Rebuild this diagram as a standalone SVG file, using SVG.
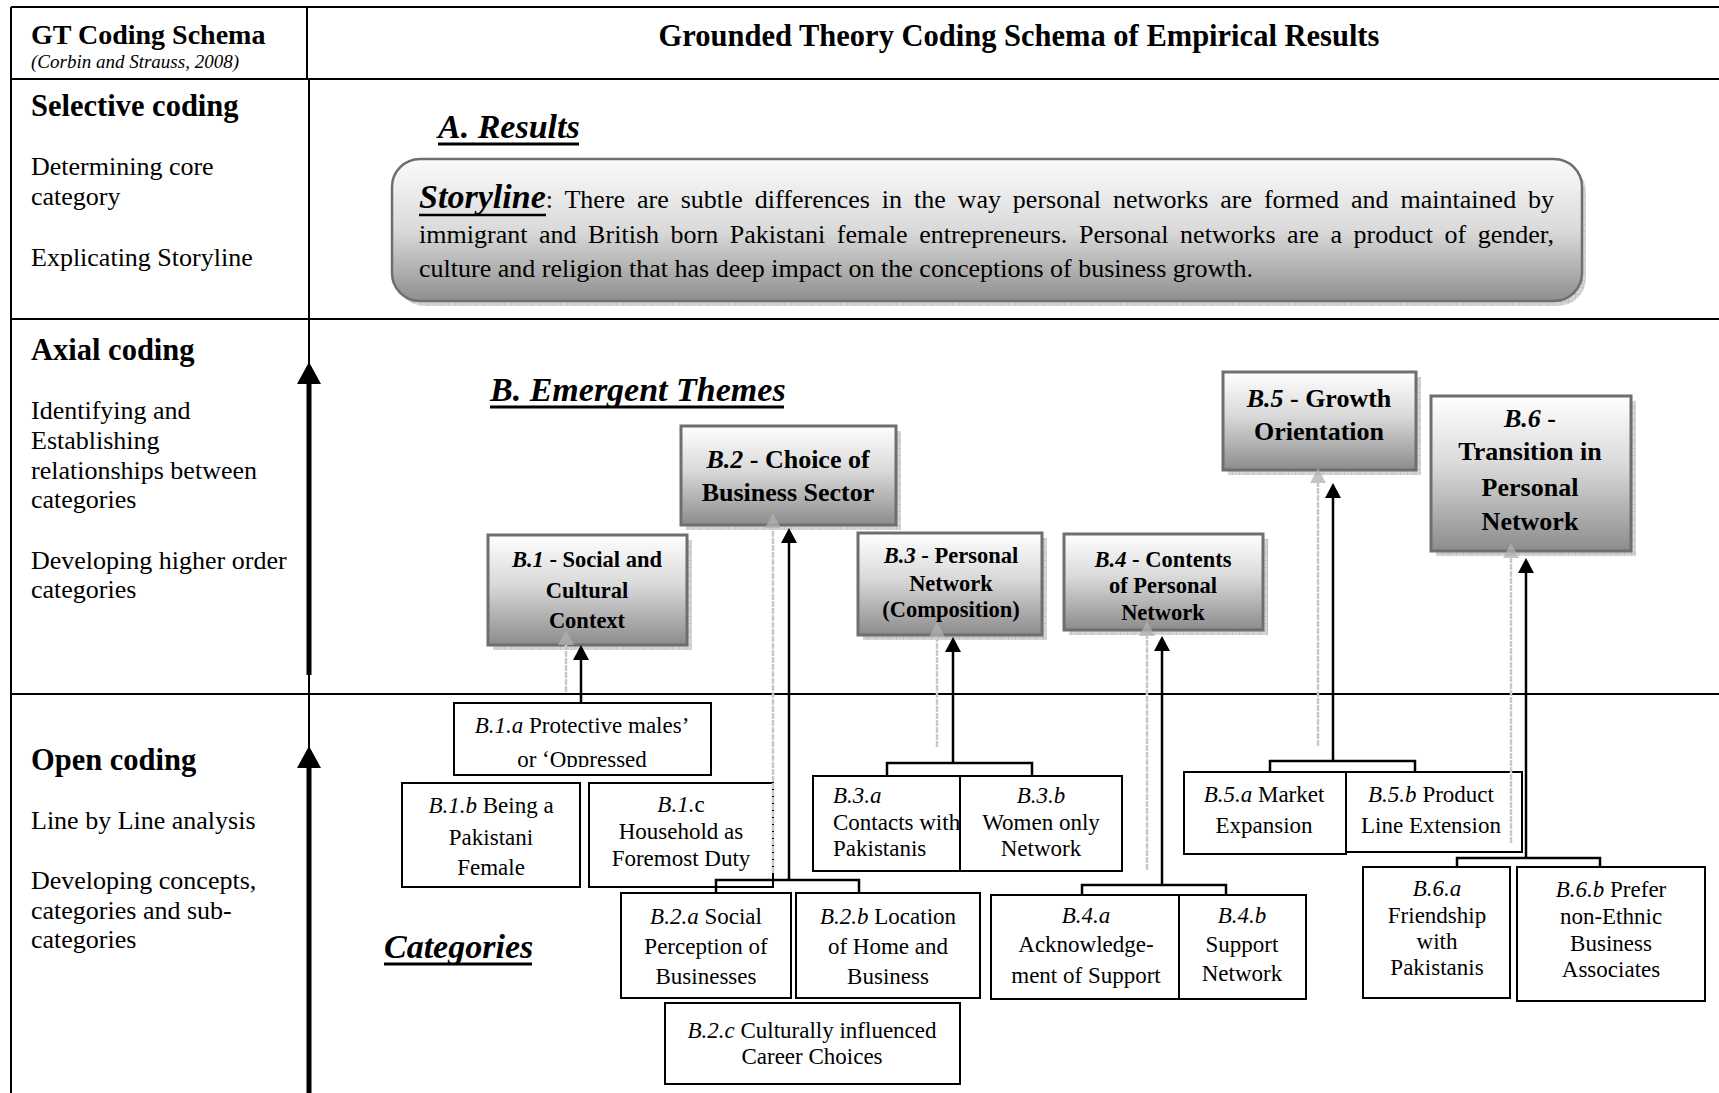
<svg xmlns="http://www.w3.org/2000/svg" width="1719" height="1093" viewBox="0 0 1719 1093">
<defs>
<style>
text{font-family:'Liberation Serif','Times New Roman',serif;fill:#000}
.tl{stroke:#000;stroke-width:2;fill:none}
.h1{font-size:30.5px;font-weight:bold}
.bd{font-size:26px}
.sec{font-size:34px;font-weight:bold;font-style:italic}
.th{fill:url(#tg);stroke:#6e6e6e;stroke-width:3}
.sh{fill:url(#hatch)}
.t26{font-size:26px;font-weight:bold;text-anchor:middle}
.t22{font-size:22.5px;font-weight:bold;text-anchor:middle}
.cat{fill:#fff;stroke:#000;stroke-width:2}
.ct{font-size:23px;text-anchor:middle}
.ctl{font-size:23px}
.i{font-style:italic}
.con{stroke:#000;stroke-width:2.5;fill:none}
.gc{stroke:#c9c9c9;stroke-width:2.5;fill:none;stroke-dasharray:6 1}
</style>
<linearGradient id="tg" x1="0" y1="0" x2="0" y2="1">
<stop offset="0" stop-color="#ffffff"/>
<stop offset="0.45" stop-color="#d9d9d9"/>
<stop offset="1" stop-color="#8c8c8c"/>
</linearGradient>
<linearGradient id="sg" x1="0" y1="0" x2="0" y2="1">
<stop offset="0" stop-color="#fbfbfb"/>
<stop offset="0.5" stop-color="#dadada"/>
<stop offset="1" stop-color="#8f8f8f"/>
</linearGradient>
<pattern id="hatch" width="7" height="7" patternUnits="userSpaceOnUse">
<rect width="7" height="7" fill="#d4d4d4"/>
<path d="M0,0V7M0,0H7" stroke="#b2b2b2" stroke-width="1"/>
</pattern>
<marker id="ah" viewBox="0 0 15 16" refX="0" refY="8" markerWidth="15" markerHeight="16" markerUnits="userSpaceOnUse" orient="auto">
<path d="M0,0L15,8L0,16Z" fill="#000"/>
</marker>
<marker id="gah" viewBox="0 0 15 16" refX="0" refY="8" markerWidth="15" markerHeight="16" markerUnits="userSpaceOnUse" orient="auto">
<path d="M0,0L15,8L0,16Z" fill="#b0b0b0" fill-opacity="0.75"/>
</marker>
<marker id="big" viewBox="0 0 22 24" refX="0" refY="12" markerWidth="22" markerHeight="24" markerUnits="userSpaceOnUse" orient="auto">
<path d="M0,0L22,12L0,24Z" fill="#000"/>
</marker>
<clipPath id="c1a"><rect x="455" y="704" width="255" height="63"/></clipPath>
</defs>
<rect width="1719" height="1093" fill="#fff"/>

<g id="table">
<path class="tl" d="M11,7H1719M11,79H1719M11,319H1719M11,694H1719M11,7V1093M307,7V79M309,79V1093"/>
<text x="31" y="44" style="font-size:28px;font-weight:bold">GT Coding Schema</text>
<text x="31" y="68" style="font-size:19px;font-style:italic">(Corbin and Strauss, 2008)</text>
<text x="1019" y="46" class="h1" text-anchor="middle">Grounded Theory Coding Schema of Empirical Results</text>
<text x="31" y="116" class="h1">Selective coding</text>
<text x="31" y="175" class="bd">Determining core</text>
<text x="31" y="205" class="bd">category</text>
<text x="31" y="266" class="bd">Explicating Storyline</text>
<text x="31" y="360" class="h1">Axial coding</text>
<text x="31" y="419" class="bd">Identifying and</text>
<text x="31" y="449" class="bd">Establishing</text>
<text x="31" y="479" class="bd">relationships between</text>
<text x="31" y="508" class="bd">categories</text>
<text x="31" y="569" class="bd">Developing higher order</text>
<text x="31" y="598" class="bd">categories</text>
<text x="31" y="770" class="h1">Open coding</text>
<text x="31" y="829" class="bd">Line by Line analysis</text>
<text x="31" y="889" class="bd">Developing concepts,</text>
<text x="31" y="919" class="bd">categories and sub-</text>
<text x="31" y="948" class="bd">categories</text>
</g>

<g id="stage-arrows">
<line x1="309" y1="675" x2="309" y2="384" stroke="#000" stroke-width="5" marker-end="url(#big)"/>
<line x1="309" y1="1093" x2="309" y2="768" stroke="#000" stroke-width="5" marker-end="url(#big)"/>
</g>

<g id="section-a">
<text x="438" y="138" class="sec">A. Results</text>
<line x1="438" y1="144" x2="579" y2="144" stroke="#000" stroke-width="3"/>
</g>

<g id="storyline">
<rect x="396" y="164" width="1190" height="142" rx="28" fill="url(#hatch)"/>
<rect x="392" y="159" width="1190" height="142" rx="28" fill="url(#sg)" stroke="#6e6e6e" stroke-width="2.5"/>
<text x="419" y="208" textLength="1135" lengthAdjust="spacing" style="font-size:26px;word-spacing:5.3px"><tspan style="font-size:34px;font-weight:bold;font-style:italic">Storyline</tspan>: There are subtle differences in the way personal networks are formed and maintained by</text>
<line x1="419" y1="215" x2="546" y2="215" stroke="#000" stroke-width="2.5"/>
<text x="419" y="243" textLength="1135" lengthAdjust="spacing" style="font-size:26px;word-spacing:5px">immigrant and British born Pakistani female entrepreneurs. Personal networks are a product of gender,</text>
<text x="419" y="277" style="font-size:26px">culture and religion that has deep impact on the conceptions of business growth.</text>
</g>

<g id="section-b">
<text x="490" y="401" class="sec">B. Emergent Themes</text>
<line x1="490" y1="407" x2="784" y2="407" stroke="#000" stroke-width="3"/>
</g>

<g id="section-categories">
<text x="384" y="958" class="sec">Categories</text>
<line x1="384" y1="964" x2="532" y2="964" stroke="#000" stroke-width="3"/>
</g>

<g id="B1">
<rect class="sh" x="493" y="540" width="199" height="110"/>
<rect class="th" x="488" y="535" width="199" height="110"/>
<text x="587" y="567" class="t22"><tspan class="i">B.1</tspan> - Social and</text>
<text x="587" y="598" class="t22">Cultural</text>
<text x="587" y="628" class="t22">Context</text>
</g>
<g id="B2">
<rect class="sh" x="686" y="431" width="215" height="99"/>
<rect class="th" x="681" y="426" width="215" height="99"/>
<text x="788" y="468" class="t26"><tspan class="i">B.2</tspan> - Choice of</text>
<text x="788" y="501" class="t26">Business Sector</text>
</g>
<g id="B3">
<rect class="sh" x="863" y="538" width="184" height="102"/>
<rect class="th" x="858" y="533" width="184" height="102"/>
<text x="951" y="563" class="t22"><tspan class="i">B.3</tspan> - Personal</text>
<text x="951" y="591" class="t22">Network</text>
<text x="951" y="617" class="t22">(Composition)</text>
</g>
<g id="B4">
<rect class="sh" x="1069" y="539" width="199" height="96"/>
<rect class="th" x="1064" y="534" width="199" height="96"/>
<text x="1163" y="567" class="t22"><tspan class="i">B.4</tspan> - Contents</text>
<text x="1163" y="593" class="t22">of Personal</text>
<text x="1163" y="620" class="t22">Network</text>
</g>
<g id="B5">
<rect class="sh" x="1228" y="377" width="193" height="98"/>
<rect class="th" x="1223" y="372" width="193" height="98"/>
<text x="1319" y="407" class="t26"><tspan class="i">B.5</tspan> - Growth</text>
<text x="1319" y="440" class="t26">Orientation</text>
</g>
<g id="B6">
<rect class="sh" x="1436" y="401" width="200" height="155"/>
<rect class="th" x="1431" y="396" width="200" height="155"/>
<text x="1530" y="427" class="t26"><tspan class="i">B.6</tspan> -</text>
<text x="1530" y="460" class="t26">Transition in</text>
<text x="1530" y="496" class="t26">Personal</text>
<text x="1530" y="530" class="t26">Network</text>
</g>

<g id="B1a">
<rect class="cat" x="454" y="703" width="257" height="72"/>
<g clip-path="url(#c1a)">
<text x="582" y="733" class="ct"><tspan class="i">B.1.a</tspan> Protective males’</text>
<text x="582" y="767" class="ct">or ‘Oppressed</text>
</g>
</g>
<g id="B1b">
<rect class="cat" x="402" y="783" width="178" height="104"/>
<text x="491" y="813" class="ct"><tspan class="i">B.1.b</tspan> Being a</text>
<text x="491" y="845" class="ct">Pakistani</text>
<text x="491" y="875" class="ct">Female</text>
</g>
<g id="B1c">
<rect class="cat" x="589" y="783" width="184" height="104"/>
<text x="681" y="812" class="ct"><tspan class="i">B.1.</tspan>c</text>
<text x="681" y="839" class="ct">Household as</text>
<text x="681" y="866" class="ct">Foremost Duty</text>
</g>
<g id="B2a">
<rect class="cat" x="621" y="893" width="170" height="105"/>
<text x="706" y="924" class="ct"><tspan class="i">B.2.a</tspan> Social</text>
<text x="706" y="954" class="ct">Perception of</text>
<text x="706" y="984" class="ct">Businesses</text>
</g>
<g id="B2b">
<rect class="cat" x="796" y="893" width="184" height="105"/>
<text x="888" y="924" class="ct"><tspan class="i">B.2.b</tspan> Location</text>
<text x="888" y="954" class="ct">of Home and</text>
<text x="888" y="984" class="ct">Business</text>
</g>
<g id="B2c">
<rect class="cat" x="665" y="1003" width="295" height="81"/>
<text x="812" y="1038" class="ct"><tspan class="i">B.2.c</tspan> Culturally influenced</text>
<text x="812" y="1064" class="ct">Career Choices</text>
</g>
<g id="B3a">
<rect class="cat" x="813" y="776" width="147" height="95"/>
<text x="833" y="803" class="ctl i">B.3.a</text>
<text x="833" y="830" class="ctl">Contacts with</text>
<text x="833" y="856" class="ctl">Pakistanis</text>
</g>
<g id="B3b">
<rect class="cat" x="960" y="776" width="162" height="95"/>
<text x="1041" y="803" class="ct i">B.3.b</text>
<text x="1041" y="830" class="ct">Women only</text>
<text x="1041" y="856" class="ct">Network</text>
</g>
<g id="B4a">
<rect class="cat" x="991" y="895" width="188" height="104"/>
<text x="1086" y="923" class="ct i">B.4.a</text>
<text x="1086" y="952" class="ct">Acknowledge-</text>
<text x="1086" y="983" class="ct">ment of Support</text>
</g>
<g id="B4b">
<rect class="cat" x="1179" y="895" width="127" height="104"/>
<text x="1242" y="923" class="ct i">B.4.b</text>
<text x="1242" y="952" class="ct">Support</text>
<text x="1242" y="981" class="ct">Network</text>
</g>
<g id="B5a">
<rect class="cat" x="1184" y="772" width="162" height="82"/>
<text x="1264" y="802" class="ct"><tspan class="i">B.5.a</tspan> Market</text>
<text x="1264" y="833" class="ct">Expansion</text>
</g>
<g id="B5b">
<rect class="cat" x="1346" y="772" width="176" height="80"/>
<text x="1431" y="802" class="ct"><tspan class="i">B.5.b</tspan> Product</text>
<text x="1431" y="833" class="ct">Line Extension</text>
</g>
<g id="B6a">
<rect class="cat" x="1363" y="867" width="147" height="131"/>
<text x="1437" y="896" class="ct i">B.6.a</text>
<text x="1437" y="923" class="ct">Friendship</text>
<text x="1437" y="949" class="ct">with</text>
<text x="1437" y="975" class="ct">Pakistanis</text>
</g>
<g id="B6b">
<rect class="cat" x="1517" y="867" width="188" height="134"/>
<text x="1611" y="897" class="ct"><tspan class="i">B.6.b</tspan> Prefer</text>
<text x="1611" y="924" class="ct">non-Ethnic</text>
<text x="1611" y="951" class="ct">Business</text>
<text x="1611" y="977" class="ct">Associates</text>
</g>

<g id="connectors">
<g id="shadow-connectors">
<line class="gc" x1="566" y1="692" x2="566" y2="645" marker-end="url(#gah)"/>
<line class="gc" x1="773" y1="873" x2="773" y2="528" marker-end="url(#gah)"/>
<line class="gc" x1="937" y1="747" x2="937" y2="637" marker-end="url(#gah)"/>
<line class="gc" x1="1147" y1="870" x2="1147" y2="636" marker-end="url(#gah)"/>
<line class="gc" x1="1318" y1="746" x2="1318" y2="483" marker-end="url(#gah)"/>
<line class="gc" x1="1511" y1="843" x2="1511" y2="558" marker-end="url(#gah)"/>
</g>
<line class="con" x1="581" y1="703" x2="581" y2="660" marker-end="url(#ah)"/>
<path class="con" d="M716,893V880H859V893"/>
<line class="con" x1="789" y1="880" x2="789" y2="543" marker-end="url(#ah)"/>
<path class="con" d="M887,776V763H1032V776"/>
<line class="con" x1="953" y1="763" x2="953" y2="652" marker-end="url(#ah)"/>
<path class="con" d="M1082,895V885H1226V895"/>
<line class="con" x1="1162" y1="885" x2="1162" y2="651" marker-end="url(#ah)"/>
<path class="con" d="M1270,772V761H1415V772"/>
<line class="con" x1="1333" y1="761" x2="1333" y2="498" marker-end="url(#ah)"/>
<path class="con" d="M1457,867V858H1600V867"/>
<line class="con" x1="1526" y1="858" x2="1526" y2="573" marker-end="url(#ah)"/>
</g>
</svg>
